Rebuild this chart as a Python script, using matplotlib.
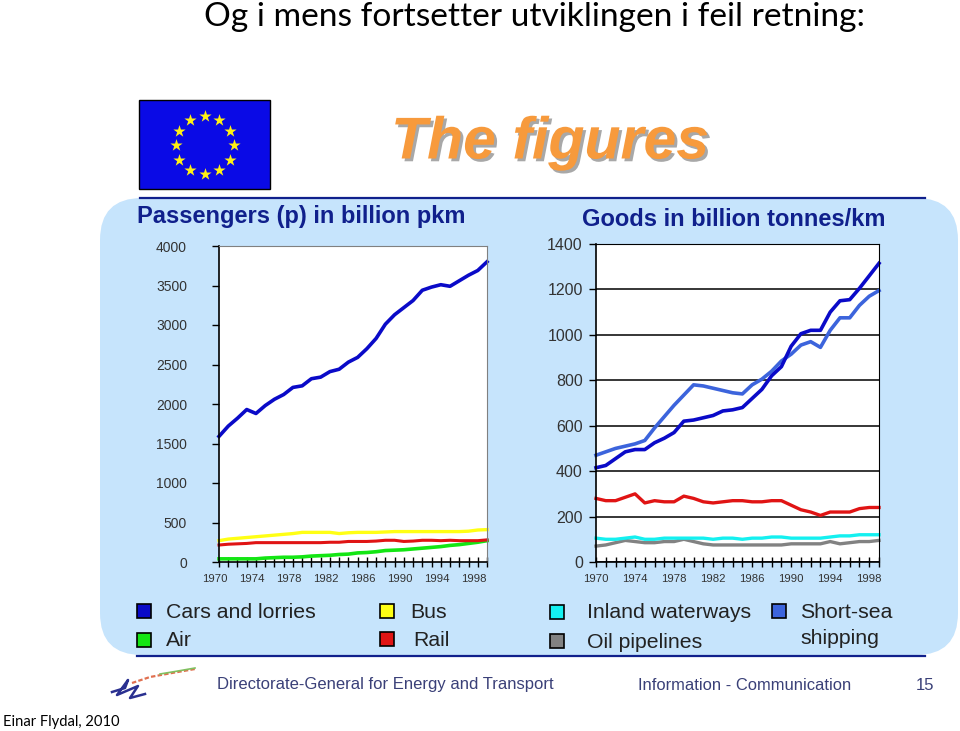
import matplotlib
matplotlib.use("Agg")
import matplotlib.pyplot as plt
import matplotlib.patheffects as pe
from matplotlib.patches import FancyBboxPatch, Rectangle
from matplotlib.transforms import ScaledTranslation
import numpy as np

W, H = 960, 731

years = list(range(1970, 2000))
year_labels = [1970, 1974, 1978, 1982, 1986, 1990, 1994, 1998]

# passengers
p_cars = [1590, 1720, 1820, 1930, 1880, 1980, 2060, 2120, 2210, 2230, 2320, 2340, 2410, 2440, 2530,
          2590, 2700, 2830, 3010, 3130, 3220, 3310, 3440, 3480, 3510, 3490, 3560, 3630, 3690, 3800]
p_bus = [270, 290, 300, 310, 320, 330, 340, 350, 360, 375, 375, 375, 375, 360, 370,
         375, 375, 375, 380, 385, 385, 385, 385, 385, 385, 385, 385, 390, 405, 410]
p_rail = [215, 225, 230, 235, 245, 245, 245, 245, 245, 245, 245, 245, 250, 250, 260,
          260, 260, 265, 275, 275, 260, 265, 275, 275, 270, 275, 270, 270, 270, 280]
p_air = [40, 40, 40, 40, 40, 50, 55, 60, 60, 65, 75, 80, 85, 95, 100,
         115, 120, 130, 145, 150, 155, 165, 175, 185, 195, 210, 220, 235, 250, 270]

# goods
g_road = [415, 425, 455, 485, 495, 495, 525, 545, 570, 620, 625, 635, 645, 665, 670,
          680, 720, 760, 820, 860, 950, 1005, 1020, 1020, 1100, 1150, 1155, 1205, 1260, 1315]
g_sea = [470, 485, 500, 510, 520, 535, 590, 640, 690, 735, 780, 775, 765, 755, 745,
         740, 780, 805, 840, 885, 915, 955, 970, 945, 1020, 1075, 1075, 1130, 1170, 1195]
g_rail = [280, 270, 270, 285, 300, 260, 270, 265, 265, 290, 280, 265, 260, 265, 270,
          270, 265, 265, 270, 270, 250, 230, 220, 205, 220, 220, 220, 235, 240, 240]
g_inland = [105, 100, 100, 105, 110, 100, 100, 105, 105, 105, 105, 105, 100, 105, 105,
            100, 105, 105, 110, 110, 105, 105, 105, 105, 110, 115, 115, 120, 120, 120]
g_oil = [70, 75, 85, 95, 90, 85, 85, 90, 90, 100, 90, 80, 75, 75, 75,
         75, 75, 75, 75, 75, 80, 80, 80, 80, 90, 80, 85, 90, 90, 95]

C_CARS = "#0A0AC8"
C_SEA = "#3C64DC"
C_BUS = "#FFFF14"
C_RAIL = "#E01414"
C_AIR = "#14E614"
C_INLAND = "#14F0F0"
C_OIL = "#828282"
NAVY = "#10208C"
FOOT = "#3A4078"
SANS = "Liberation Sans"

fig = plt.figure(figsize=(W / 100, H / 100), dpi=100, facecolor="white")

# page layer in pixel coordinates
bg = fig.add_axes([0, 0, 1, 1], zorder=0)
bg.set_xlim(0, W)
bg.set_ylim(H, 0)
bg.axis("off")

bg.add_patch(FancyBboxPatch((100, 198), 858, 457, boxstyle="round,pad=0,rounding_size=42",
                            fc="#C6E4FC", ec="none"))
bg.plot([140, 925], [198, 198], color=NAVY, lw=1.6)
bg.plot([137, 925], [655.5, 655.5], color=NAVY, lw=1.6)

# slide title
bg.text(535, 17, "Og i mens fortsetter utviklingen i feil retning:", family="Lato", fontsize=24.1,
        ha="center", va="center", color="black")

# flag
bg.add_patch(Rectangle((139, 100), 131, 89, fc="#0A0AE6", ec="black", lw=1))
angles = np.deg2rad(np.arange(0, 360, 30))
bg.scatter(204.5 + 29 * np.cos(angles), 145 + 29 * np.sin(angles), marker="*", s=85,
           color="#FFF014", zorder=3, linewidths=0)

# heading with shadow
bg.text(550, 143, "The figures", family=SANS, weight="bold", style="italic", fontsize=42.5,
        ha="center", va="center", color="#F79A3C",
        path_effects=[pe.withSimplePatchShadow(offset=(2, -2), shadow_rgbFace="#A8A8A8", alpha=1)])

bg.text(137, 217, "Passengers (p) in billion pkm", family=SANS, weight="bold", fontsize=17,
        ha="left", va="center", color=NAVY)
bg.text(582, 219, "Goods in billion tonnes/km", family=SANS, weight="bold", fontsize=17,
        ha="left", va="center", color=NAVY)

# legend
legend_items = [
    (137, 611, C_CARS, 166, "Cars and lorries"),
    (137, 640, C_AIR, 166, "Air"),
    (380, 611, C_BUS, 410, "Bus"),
    (380, 639, C_RAIL, 413, "Rail"),
    (550, 612, C_INLAND, 587, "Inland waterways"),
    (550, 641, C_OIL, 587, "Oil pipelines"),
    (772, 611, C_SEA, 800, "Short-sea"),
]
for x, y, col, tx, label in legend_items:
    bg.add_patch(Rectangle((x, y - 7), 14, 14, fc=col, ec="black", lw=1.2))
    bg.text(tx, y + 1, label, family=SANS, fontsize=15.3, ha="left", va="center", color="#222222")
bg.text(800, 639, "shipping", family=SANS, fontsize=15.3, ha="left", va="center", color="#222222")

# footer
bg.text(217, 685, "Directorate-General for Energy and Transport", family=SANS, fontsize=12,
        ha="left", va="center", color=FOOT)
bg.text(638, 685, "Information - Communication", family=SANS, fontsize=11.9,
        ha="left", va="center", color=FOOT)
bg.text(916, 685, "15", family=SANS, fontsize=12, ha="left", va="center", color=FOOT)
bg.text(3, 722, "Einar Flydal, 2010", family="Lato", fontsize=10.6, ha="left", va="center", color="black")

# logo squiggle
bg.plot([112, 125, 128, 117, 138, 130, 145], [692, 688, 680, 695, 686, 698, 694], color="#2A3090", lw=1.8)
bg.plot([132, 150, 172, 195], [683, 677, 673, 669], color="#E07050", lw=1.6, ls=(0, (2, 1)))
bg.plot([160, 178, 195], [674, 671, 668], color="#80C060", lw=1.2)


def make_axes(left, right, top, bottom, ymax, ystep, ysize, ypad):
    ax = fig.add_axes([left / W, 1 - bottom / H, (right - left) / W, (bottom - top) / H], zorder=2)
    ax.set_xlim(1970, 1999)
    ax.set_ylim(0, ymax)
    ax.set_facecolor("white")
    ax.set_xticks(years)
    ax.set_xticklabels([str(y) if y in year_labels else "" for y in years],
                       family=SANS, fontsize=8.2, color="#333333")
    ax.set_yticks(range(0, ymax + 1, ystep))
    ax.tick_params(axis="x", direction="inout", length=7, width=1, pad=5)
    ax.tick_params(axis="y", direction="out", length=5, width=1, pad=ypad)
    for t in ax.get_yticklabels():
        t.set_family(SANS)
        t.set_fontsize(ysize)
        t.set_color("#333333")
    ax.spines["left"].set_linewidth(1.2)
    ax.spines["bottom"].set_linewidth(1.2)
    return ax


ax1 = make_axes(219, 487, 246, 562, 4000, 500, 10, 18)
ax1.spines["top"].set_color("#808080")
ax1.spines["right"].set_color("#808080")
# year labels sit a little left of their ticks on this panel
shift = ScaledTranslation(-4 / 100, 0, fig.dpi_scale_trans)
for t in ax1.get_xticklabels():
    t.set_transform(t.get_transform() + shift)
ax1.plot(years, p_air, color=C_AIR, lw=2.6, clip_on=False)
ax1.plot(years, p_rail, color=C_RAIL, lw=2.2, clip_on=False)
ax1.plot(years, p_bus, color=C_BUS, lw=2.4, clip_on=False)
ax1.plot(years, p_cars, color=C_CARS, lw=2.6, clip_on=False)

ax2 = make_axes(596, 879, 244, 562, 1400, 200, 11.5, 4.5)
ax2.grid(axis="y", color="black", lw=1.1)
ax2.set_axisbelow(True)
ax2.plot(years, g_oil, color=C_OIL, lw=2.4, clip_on=False)
ax2.plot(years, g_inland, color=C_INLAND, lw=2.4, clip_on=False)
ax2.plot(years, g_rail, color=C_RAIL, lw=2.4, clip_on=False)
ax2.plot(years, g_sea, color=C_SEA, lw=2.6, clip_on=False)
ax2.plot(years, g_road, color=C_CARS, lw=2.6, clip_on=False)

fig.savefig("out.png", dpi=100)
